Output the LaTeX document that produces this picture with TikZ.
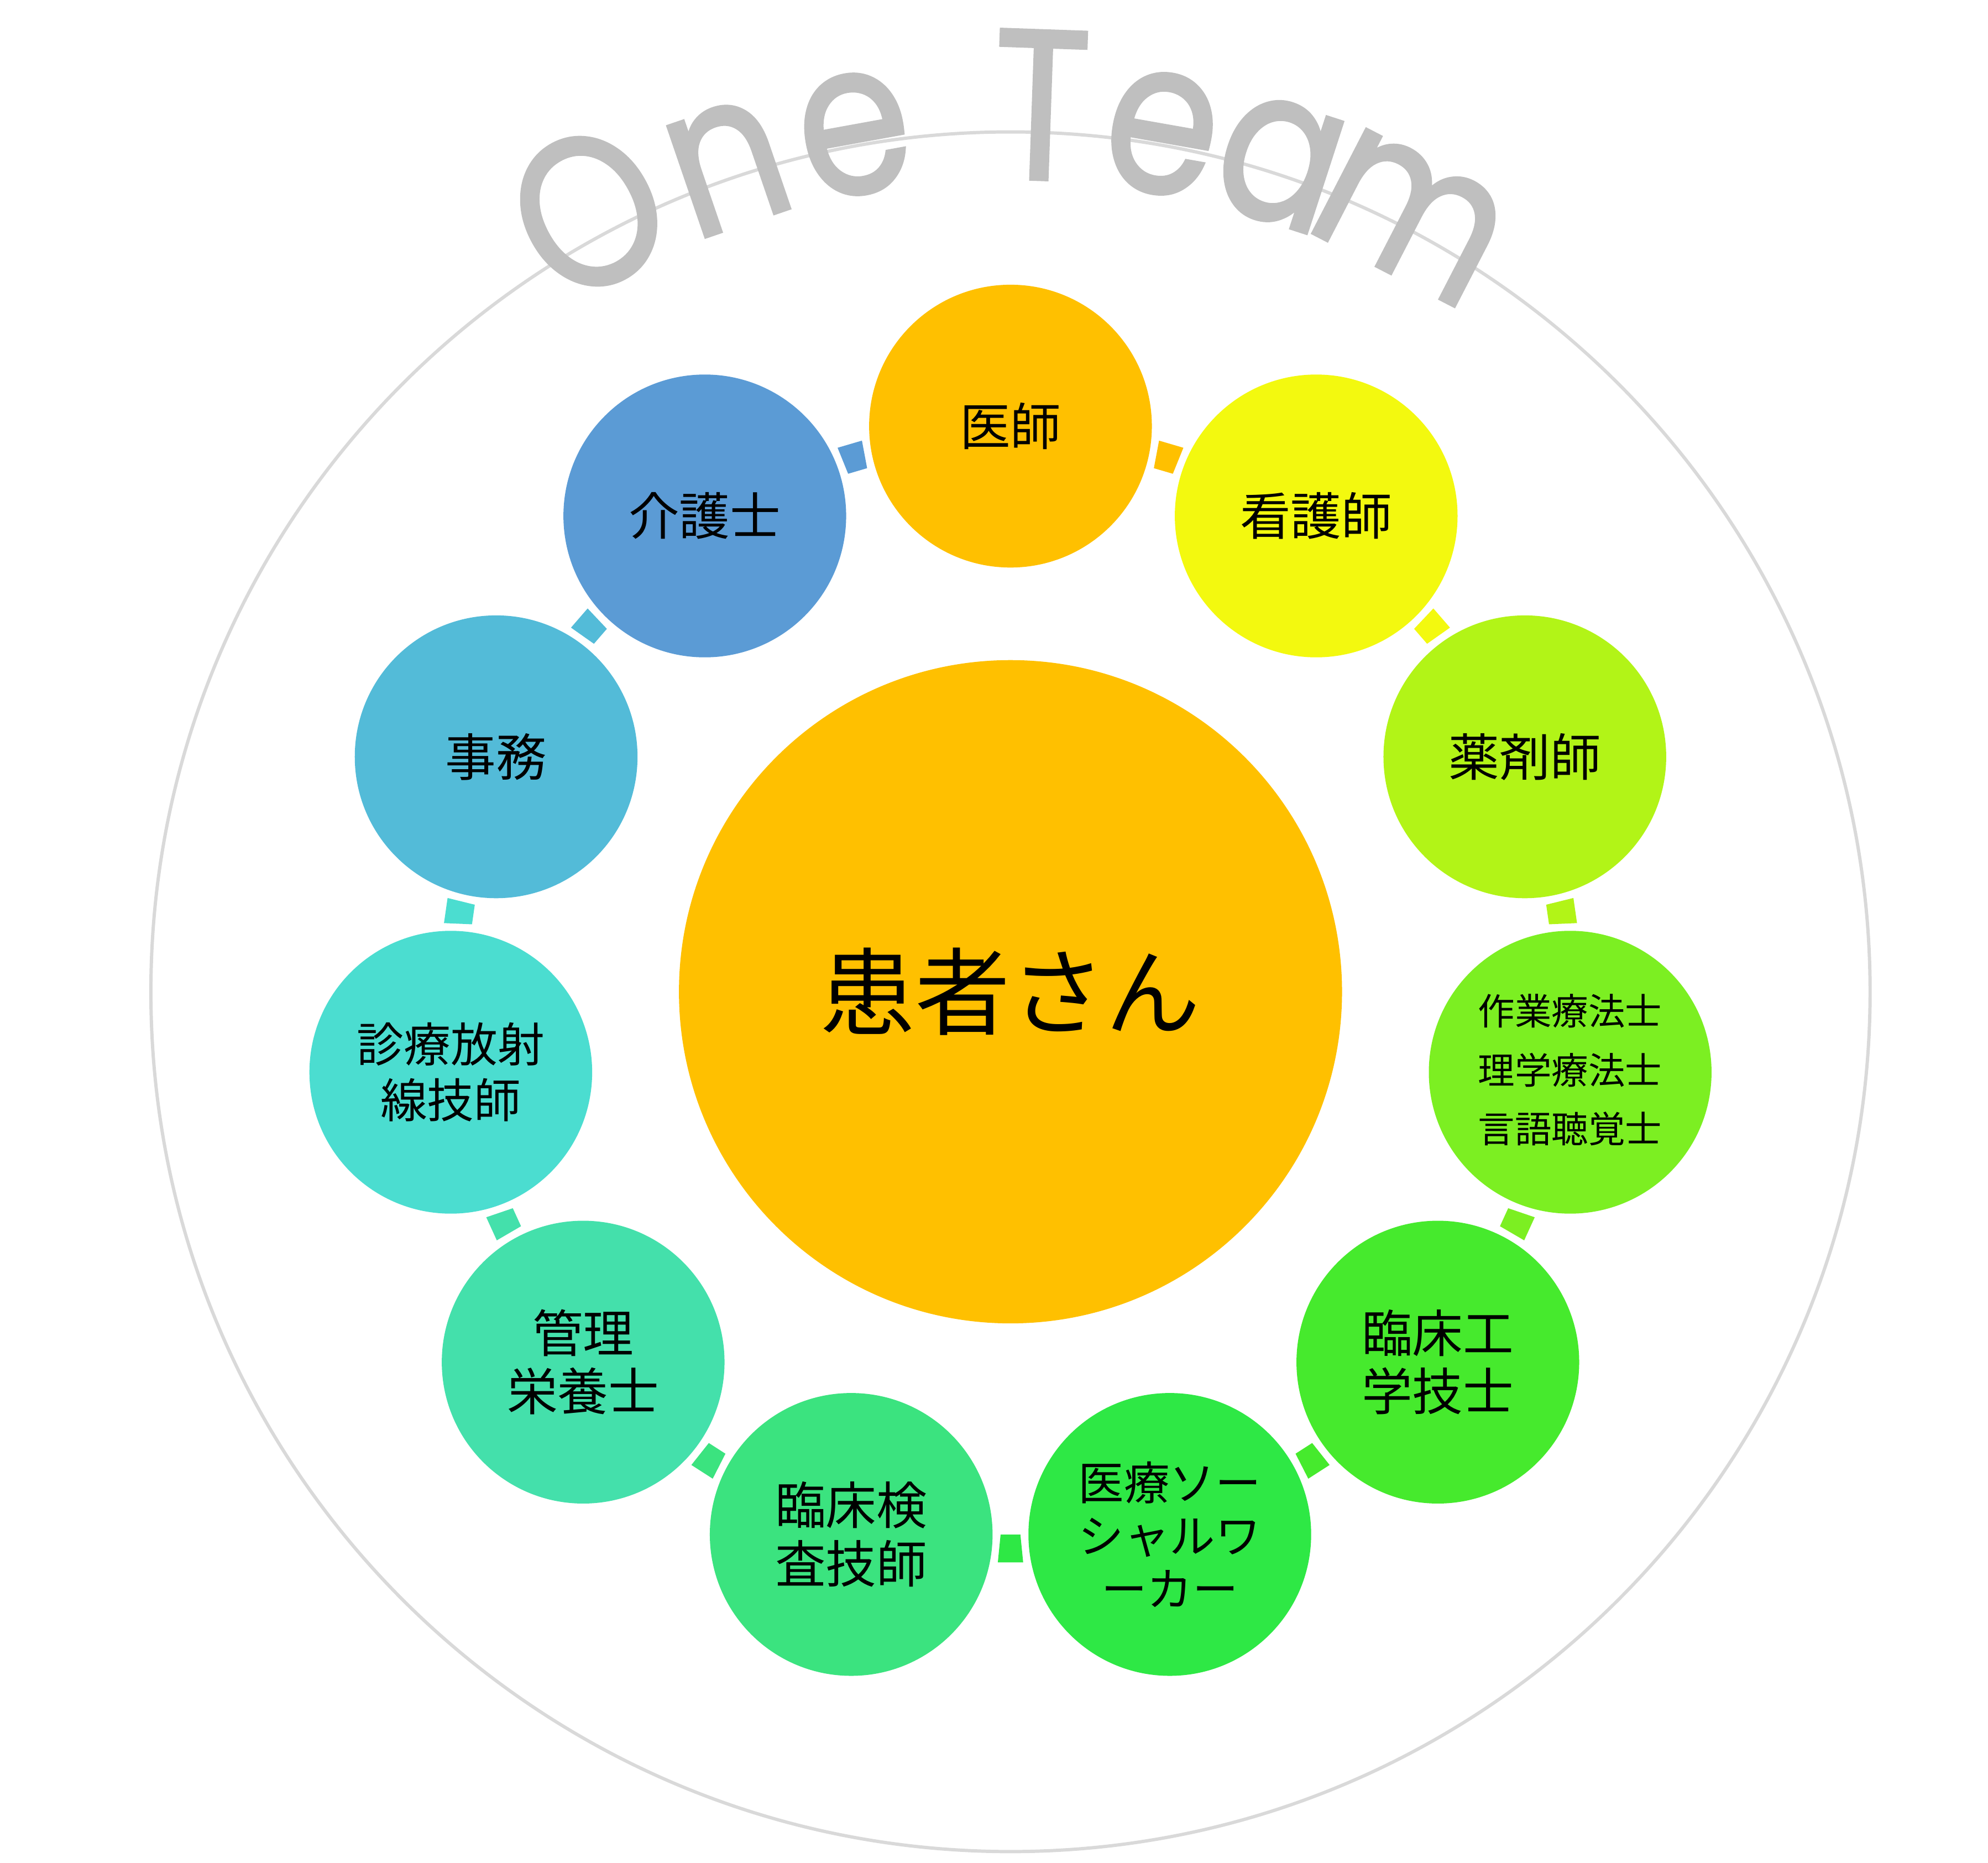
\documentclass[tikz,border=0pt]{standalone}
\usepackage{fontspec}
\usepackage{graphicx}
\newfontfamily\jp{Noto Sans CJK JP}
\newfontfamily\pop{Poppins}[FakeBold=1.6]
\usetikzlibrary{calc}
\definecolor{c1}{HTML}{FFC000}
\definecolor{c2}{HTML}{F3F90F}
\definecolor{c3}{HTML}{B2F417}
\definecolor{c4}{HTML}{7CEF22}
\definecolor{c5}{HTML}{46EA2D}
\definecolor{c6}{HTML}{2EE845}
\definecolor{c7}{HTML}{3BE37F}
\definecolor{c8}{HTML}{44E0AB}
\definecolor{c9}{HTML}{4BDDD0}
\definecolor{c10}{HTML}{53BBD8}
\definecolor{c11}{HTML}{5B9BD5}
\definecolor{ringgray}{HTML}{D9D9D9}
\definecolor{otgray}{HTML}{BFBFBF}
\tikzset{
  member/.style={circle, inner sep=0pt, minimum size=111.5pt, draw=none, align=center,
    text=black, font=\jp\fontsize{20}{23}\selectfont},
  patient/.style={circle, inner sep=0pt, minimum size=261.5pt, draw=none, fill=c1,
    text=black, font=\jp\fontsize{37.5}{44}\selectfont},
  outerring/.style={draw=ringgray, line width=1.3pt},
  otletter/.style={inner sep=0pt, anchor=base, text=otgray, font=\pop\fontsize{84}{90}\selectfont}
}
\begin{document}
\begin{tikzpicture}[x=0.5pt,y=0.5pt]
\useasboundingbox (0,0) rectangle (1568,-1469);
\coordinate (O) at (797,-782);
\draw[outerring] (O) circle[radius=339pt];
% curved title, letter by letter
\foreach \ch/\ang/\nm in {O/118.4/t1, n/108.9/t2, e/100.3/t3, T/88.0/t4, e/80.0/t5, a/72.0/t6, m/62.7/t7}{
  \node[otletter, rotate=\ang-90] (\nm) at ($(O)+(\ang:320.5pt)$) {\scalebox{0.85}[1]{\ch}};
}
% connectors
\foreach \i/\c in {0/c1,1/c2,2/c3,3/c4,4/c5,5/c6,6/c7,7/c8,8/c9,9/c10,10/c11}{
  \fill[\c, shift={(O)}, rotate={90-32.72727*(\i+0.5)}]
    (214pt,-3.9pt) -- (225pt,-5pt) -- (225pt,5pt) -- (214pt,3.9pt) -- cycle;
}
\node[patient] (p) at (O) {\raisebox{1.5pt}{患者さん}};
\node[member, fill=c1] (m1) at ($(O)+(90:223pt)$) {医師};
\node[member, fill=c2] (m2) at ($(O)+(90-32.72727*1:223pt)$) {看護師};
\node[member, fill=c3] (m3) at ($(O)+(90-32.72727*2:223pt)$) {薬剤師};
\node[member, fill=c4, font=\jp\fontsize{14.5}{23.2}\selectfont] (m4) at ($(O)+(90-32.72727*3:223pt)$) {\raisebox{1.5pt}{\begin{tabular}{@{}c@{}}作業療法士\\理学療法士\\言語聴覚士\end{tabular}}};
\node[member, fill=c5] (m5) at ($(O)+(90-32.72727*4:223pt)$) {臨床工\\学技士};
\node[member, fill=c6, font=\jp\fontsize{18}{21}\selectfont] (m6) at ($(O)+(90-32.72727*5:223pt)$) {医療ソー\\シャルワ\\ーカー};
\node[member, fill=c7] (m7) at ($(O)+(90-32.72727*6:223pt)$) {臨床検\\査技師};
\node[member, fill=c8] (m8) at ($(O)+(90-32.72727*7:223pt)$) {管理\\栄養士};
\node[member, fill=c9, font=\jp\fontsize{18.5}{22}\selectfont] (m9) at ($(O)+(90-32.72727*8:223pt)$) {診療放射\\線技師};
\node[member, fill=c10] (m10) at ($(O)+(90-32.72727*9:223pt)$) {事務};
\node[member, fill=c11] (m11) at ($(O)+(90-32.72727*10:223pt)$) {介護士};
\end{tikzpicture}
\end{document}
